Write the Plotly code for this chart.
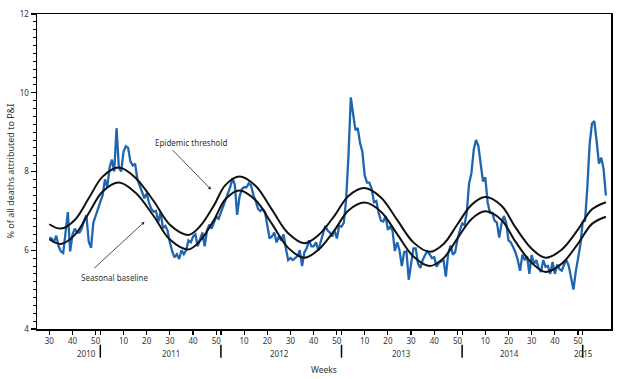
import plotly.graph_objects as go

# Weekly % of deaths attributed to P&I, from 2010 week 30 (index 0) onward
pct = [
    6.32, 6.30, 6.20, 6.37, 6.10, 5.97, 5.93, 6.50, 6.97, 5.97,
    6.40, 6.55, 6.45, 6.45, 6.56, 6.75, 6.89, 6.22, 6.06, 6.70,
    6.90, 7.05, 7.23, 7.40, 7.80, 7.60, 8.10, 8.30, 8.00, 9.10,
    8.10, 8.00, 8.50, 8.64, 8.60, 8.25, 8.15, 8.20,
    7.80, 7.65, 7.50, 7.32, 7.45, 7.20, 7.05, 6.98, 7.00, 6.72,
    6.97, 6.56, 6.62, 6.50, 6.20, 5.97, 5.82, 5.90, 5.78, 6.00,
    5.90, 6.00, 6.25, 6.20, 6.35, 6.40, 6.10, 6.30, 6.45, 6.10,
    6.50, 6.65, 6.55, 6.70, 6.85, 6.80, 6.95, 7.15, 7.30, 7.45, 7.60, 7.83,
    7.66, 6.90, 7.35, 7.55, 7.60, 7.60, 7.70, 7.65, 7.40, 7.25,
    7.05, 7.00, 7.05, 6.97, 6.64, 6.30, 6.35, 6.45, 6.20, 6.35,
    6.25, 6.40, 6.05, 5.75, 5.80, 5.75, 5.80, 5.85, 6.00, 5.60,
    5.95, 6.05, 6.25, 6.10, 6.10, 6.20, 6.00, 6.20, 6.45, 6.62, 6.50, 6.45,
    6.35, 6.50, 6.30, 6.62, 6.60, 6.70, 7.30, 8.40, 9.88, 9.40,
    9.05, 9.10, 8.72, 8.50, 7.90, 7.72, 7.72, 7.56, 7.22, 7.25,
    6.95, 6.75, 6.73, 6.87, 6.52, 6.60, 6.50, 5.98, 6.20, 6.00,
    5.60, 5.95, 5.97, 5.25, 5.60, 6.05, 6.05, 5.66, 5.55, 5.75, 5.88, 5.97, 5.90,
    5.80, 5.82, 5.58, 5.68, 5.72, 5.75, 5.33, 5.92, 6.12, 5.89,
    5.95, 6.28, 6.50, 6.68, 6.64, 6.95, 7.70, 7.95, 8.55, 8.80,
    8.65, 8.20, 7.75, 7.85, 7.22, 6.95, 6.95, 6.75, 6.70, 6.32,
    6.68, 6.87, 6.70, 6.25, 6.20, 6.08, 5.95, 5.75, 5.48, 5.89, 5.75, 5.85,
    5.40, 5.88, 5.65, 5.75, 5.55, 5.45, 5.75, 5.58, 5.60, 5.40,
    5.70, 5.40, 5.64, 5.52, 5.48, 5.64, 5.75, 5.60, 5.25, 5.00,
    5.45, 5.80, 6.14, 6.72, 6.75, 7.60, 8.70, 9.22, 9.28, 8.78,
    8.20, 8.35, 8.06, 7.39,
]
week_index = list(range(len(pct)))

# Seasonal baseline and epidemic threshold read at selected weeks
curve_weeks = [0, 5, 11, 17, 23, 30, 37, 45, 52, 60, 65, 71, 76, 82, 89, 96, 103,
               110, 116, 123, 129, 136, 143, 150, 157, 164, 170, 176, 182, 188,
               195, 201, 208, 214, 221, 228, 234, 240]
baseline = [6.28, 6.16, 6.39, 6.94, 7.49, 7.72, 7.47, 6.87, 6.27, 6.02, 6.24, 6.77,
            7.30, 7.52, 7.27, 6.67, 6.06, 5.81, 6.01, 6.51, 7.01, 7.21, 6.98, 6.41,
            5.84, 5.60, 5.80, 6.30, 6.79, 6.99, 6.77, 6.22, 5.68, 5.45, 5.66, 6.17,
            6.67, 6.85]
threshold = [6.66, 6.55, 6.77, 7.32, 7.87, 8.10, 7.85, 7.25, 6.65, 6.39, 6.61, 7.14,
             7.66, 7.87, 7.63, 7.03, 6.43, 6.18, 6.38, 6.88, 7.38, 7.58, 7.34, 6.77,
             6.20, 5.96, 6.16, 6.66, 7.15, 7.35, 7.13, 6.58, 6.04, 5.81, 6.02, 6.53,
             7.04, 7.22]

# x-axis ticks (week numbers) and year boundaries
tick_pos = [0, 10, 20, 22, 32, 42, 52, 62, 72, 74, 84, 94, 104, 114, 124, 126,
            136, 146, 156, 166, 176, 178, 188, 198, 208, 218, 228, 230]
tick_text = ['30', '40', '50', '', '10', '20', '30', '40', '50', '', '10', '20', '30',
             '40', '50', '', '10', '20', '30', '40', '50', '', '10', '20', '30', '40',
             '50', '']
year_bounds = [22, 74, 126, 178, 230]
years = ['2010', '2011', '2012', '2013', '2014', '2015']
year_label_x = [0.066, 0.2135, 0.422, 0.635, 0.844, 0.972]

FONT = "Noto Sans"
TXT = "#333333"

fig = go.Figure()
fig.add_trace(go.Scatter(x=week_index, y=pct, mode='lines',
                         line=dict(color='#1f66b0', width=2.3), hoverinfo='skip'))
fig.add_trace(go.Scatter(x=curve_weeks, y=threshold, mode='lines',
                         line=dict(color='#111111', width=2, shape='spline'), hoverinfo='skip'))
fig.add_trace(go.Scatter(x=curve_weeks, y=baseline, mode='lines',
                         line=dict(color='#111111', width=2, shape='spline'), hoverinfo='skip'))

fig.update_layout(
    width=621, height=379,
    margin=dict(l=37, r=8, t=9, b=50),
    paper_bgcolor='white', plot_bgcolor='white',
    showlegend=False,
    font=dict(family=FONT, size=8, color=TXT),
    xaxis=dict(range=[-5.3, 242.2], tickmode='array', tickvals=tick_pos, ticktext=tick_text,
               ticks='outside', ticklen=4, tickwidth=1.2, tickcolor='black',
               showline=True, linecolor='black', linewidth=1.5, mirror=True,
               showgrid=False, zeroline=False, tickfont=dict(size=8, color=TXT)),
    yaxis=dict(range=[4, 12], tickvals=[4, 6, 8, 10, 12],
               ticks='outside', ticklen=5, tickwidth=1.2, tickcolor='black',
               minor=dict(dtick=0.2, ticks='outside', ticklen=3, tickcolor='black', tickwidth=1),
               showline=True, linecolor='black', linewidth=1.5, mirror=True,
               showgrid=False, zeroline=False, tickfont=dict(size=8, color=TXT)),
)

for b in year_bounds:
    fig.add_shape(type='line', xref='x', yref='paper', x0=b, x1=b, y0=-0.05, y1=-0.091,
                  line=dict(color='black', width=1.5))

for yr, px in zip(years, year_label_x):
    fig.add_annotation(text=yr, xref='paper', yref='paper', x=px, y=-0.078,
                       showarrow=False, font=dict(size=8, color=TXT), yanchor='middle')

fig.add_annotation(text='Weeks', xref='paper', yref='paper', x=0.5, y=-0.128,
                   showarrow=False, font=dict(size=8.5, color=TXT), yanchor='middle')
fig.add_annotation(text='% of all deaths attributed to P&I', xref='paper', yref='paper',
                   x=-0.047, y=0.5, textangle=-90, showarrow=False,
                   font=dict(size=9, color=TXT), xanchor='center', yanchor='middle')

# Labels with arrows
fig.add_annotation(text='Epidemic threshold', x=61.1, y=8.725, showarrow=False,
                   font=dict(size=8, color=TXT))
fig.add_annotation(text='', x=69.8, y=7.54, ax=-40, ay=-41, showarrow=True,
                   arrowhead=2, arrowsize=0.8, arrowwidth=0.8, arrowcolor='#222')
fig.add_annotation(text='Seasonal baseline', x=28.2, y=5.31, showarrow=False,
                   font=dict(size=8, color=TXT))
fig.add_annotation(text='', x=41.1, y=6.725, ax=-52, ay=48, showarrow=True,
                   arrowhead=2, arrowsize=0.8, arrowwidth=0.8, arrowcolor='#222')

fig.write_html("out.html", config={'displayModeBar': False, 'staticPlot': True},
               post_script="document.body.style.margin='0';document.body.style.overflow='hidden';")
